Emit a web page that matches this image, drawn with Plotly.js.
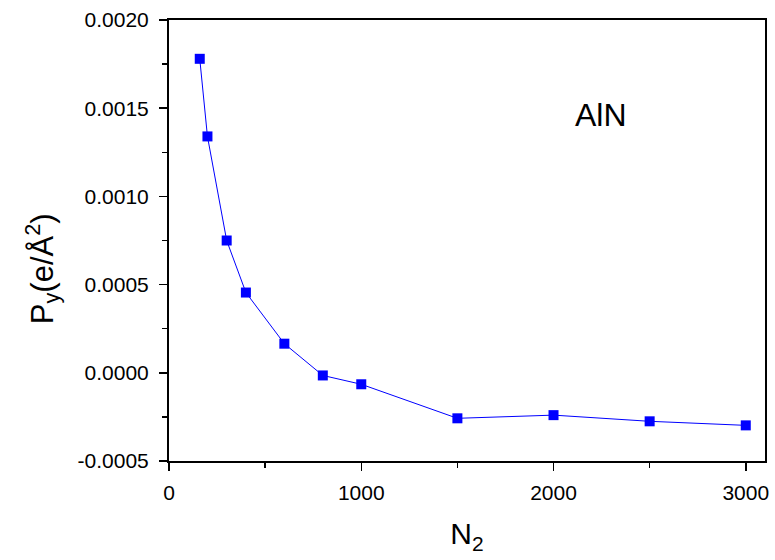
<!DOCTYPE html>
<html>
<head>
<meta charset="utf-8">
<script src="https://cdn.plot.ly/plotly-3.0.1.min.js"></script>
<style>
  html, body { margin: 0; padding: 0; background: #fff; }
  #chart { width: 775px; height: 560px; }
</style>
</head>
<body>
<div id="chart"></div>
<script>
// Polarization P_y of AlN versus N_2
const n2 = [160, 200, 300, 400, 600, 800, 1000, 1500, 2000, 2500, 3000];
const py = [0.00178, 0.00134, 0.00075, 0.000455, 0.000165, -0.000015, -0.000065, -0.000258, -0.00024, -0.000275, -0.000298];

const xTickVals = [0, 1000, 2000, 3000];
const xTickText = ['0', '1000', '2000', '3000'];
const yTickVals = [-0.0005, 0, 0.0005, 0.001, 0.0015, 0.002];
const yTickText = ['-0.0005', '0.0000', '0.0005', '0.0010', '0.0015', '0.0020'];

const font = 'Arial, "Liberation Sans", sans-serif';

const trace = {
  x: n2,
  y: py,
  type: 'scatter',
  mode: 'lines+markers',
  line: { color: '#0000ff', width: 1 },
  marker: { symbol: 'square', size: 10, color: '#0000ff' },
  cliponaxis: false
};

const axisCommon = {
  showgrid: false,
  zeroline: false,
  showline: true,
  linecolor: '#000',
  linewidth: 2,
  mirror: true,
  ticks: 'outside',
  ticklen: 8,
  tickwidth: 1.5,
  tickcolor: '#000',
  tickfont: { family: font, size: 21, color: '#000' },
  minor: { ticks: 'outside', ticklen: 5, tickwidth: 1.5, tickcolor: '#000' }
};

const layout = {
  width: 775,
  height: 560,
  margin: { l: 169, r: 10, t: 20, b: 99 },
  paper_bgcolor: '#fff',
  plot_bgcolor: '#fff',
  showlegend: false,
  xaxis: Object.assign({}, axisCommon, {
    range: [0, 3100],
    tickvals: xTickVals,
    ticktext: xTickText,
    ticklabelstandoff: 4,
    minor: Object.assign({}, axisCommon.minor, { dtick: 500, tick0: 0 }),
    title: { text: 'N<sub>2</sub>', font: { family: font, size: 30, color: '#000' }, standoff: 20 }
  }),
  yaxis: Object.assign({}, axisCommon, {
    range: [-0.0005, 0.002],
    tickvals: yTickVals,
    ticktext: yTickText,
    ticklabelstandoff: 6,
    minor: Object.assign({}, axisCommon.minor, { dtick: 0.00025, tick0: 0 })
  }),
  annotations: [
    {
      // y-axis title, set slightly below the axis centre
      xref: 'paper', yref: 'paper',
      x: -0.213, y: 0.435,
      xanchor: 'center', yanchor: 'middle',
      textangle: -90,
      text: 'P<sub>y</sub>(e/Å<sup>2</sup>)',
      showarrow: false,
      font: { family: font, size: 31, color: '#000' }
    },
    {
      x: 2246, y: 0.001464,
      xref: 'x', yref: 'y',
      text: 'AlN',
      showarrow: false,
      font: { family: font, size: 32, color: '#000' }
    }
  ]
};

Plotly.newPlot('chart', [trace], layout, { displayModeBar: false, staticPlot: true });
</script>
</body>
</html>
